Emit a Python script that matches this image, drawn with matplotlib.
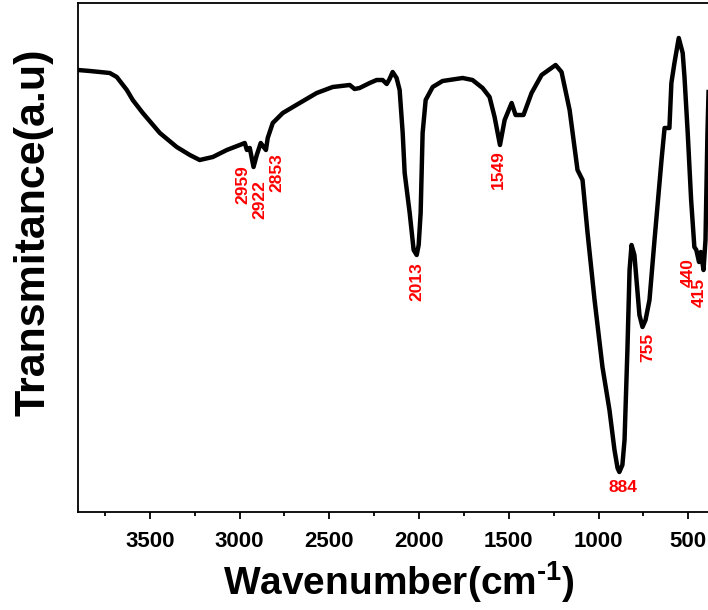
import numpy as np
import matplotlib
matplotlib.use('Agg')
import matplotlib.pyplot as plt
from matplotlib.ticker import MultipleLocator

plt.rcParams['font.family'] = ['Liberation Sans', 'DejaVu Sans']
plt.rcParams['font.weight'] = 'bold'
plt.rcParams['mathtext.default'] = 'regular'

# FTIR spectrum
wavenumber = [3900, 3834, 3778, 3723, 3684, 3628, 3595, 3539, 3444, 3350,
              3277, 3222, 3149, 3071, 2999, 2971, 2959, 2943, 2922, 2904,
              2882, 2853, 2843, 2815, 2759, 2665, 2570, 2481, 2386, 2359,
              2331, 2275, 2236, 2203, 2180, 2164, 2147, 2125, 2108, 2091,
              2080, 2052, 2030, 2013, 2002, 1991, 1980, 1963, 1924, 1869,
              1757, 1702, 1646, 1607, 1579, 1549, 1523, 1484, 1462, 1418,
              1373, 1317, 1239, 1206, 1161, 1117, 1089, 1061, 1022, 978,
              939, 911, 894, 884, 867, 855, 839, 827, 816, 800,
              772, 755, 738, 716, 688, 649, 632, 605, 594, 577,
              553, 531, 521, 503, 484, 466, 455, 440, 430, 415,
              404, 393, 387]
transmittance = [88.4, 88.2, 88.0, 87.8, 87.0, 84.4, 82.4, 79.8, 75.8, 73.0,
                 71.4, 70.4, 71.0, 72.4, 73.4, 73.8, 72.4, 72.8, 69.0, 71.4,
                 73.8, 72.4, 74.8, 77.8, 79.8, 81.8, 83.8, 85.0, 85.4, 84.6,
                 84.8, 85.8, 86.4, 86.4, 85.6, 86.6, 88.0, 86.8, 84.4, 75.8,
                 67.8, 59.8, 52.4, 51.4, 53.4, 59.8, 75.8, 82.4, 85.0, 86.2,
                 86.8, 86.4, 84.8, 83.0, 79.0, 73.4, 78.4, 81.8, 79.4, 79.4,
                 83.8, 87.4, 89.4, 88.0, 80.4, 68.4, 66.4, 55.8, 42.4, 29.0,
                 20.4, 12.4, 8.8, 8.0, 9.4, 14.4, 32.4, 48.4, 53.4, 51.4,
                 39.4, 37.0, 38.4, 42.4, 54.4, 70.4, 76.8, 76.8, 85.8, 89.8,
                 94.8, 91.8, 87.0, 75.8, 62.4, 53.0, 52.4, 50.0, 52.0, 48.4,
                 54.4, 75.8, 84.0]

# peak labels: text, x, y (top of rotated text), rotation
peak_labels = ['2959', '2922', '2853', '2013', '1549', '884', '755', '440', '415']
label_x = [2982, 2888, 2793, 2013, 1557, 866, 727, 499, 438]
label_y = [69.4, 66.4, 71.8, 50.0, 72.4, 4.8, 35.8, 50.8, 46.8]
label_rot = [90, 90, 90, 90, 90, 0, 90, 90, 90]

fig = plt.figure(figsize=(7.08, 6.10), dpi=100)
ax = fig.add_axes([78 / 708, 98 / 610, 630 / 708, 509 / 610])

ax.plot(wavenumber, transmittance, color='black', lw=3.2, solid_joinstyle='round')

for t, x, y, r in zip(peak_labels, label_x, label_y, label_rot):
    if r == 90:
        ax.text(x, y, t, rotation=90, ha='center', va='top', color='red',
                fontsize=12.5, fontweight='bold')
    else:
        ax.text(x, y, t, ha='center', va='center', color='red',
                fontsize=12.5, fontweight='bold')

ax.set_xlim(3900, 390)
ax.set_ylim(0, 101.8)
ax.xaxis.set_major_locator(MultipleLocator(500))
ax.xaxis.set_minor_locator(MultipleLocator(250))
ax.tick_params(axis='x', which='major', direction='out', length=5, width=1.3,
               labelsize=16, pad=9)
ax.tick_params(axis='x', which='minor', direction='out', length=3, width=1.3)
ax.set_yticks([])
for s in ['left', 'bottom', 'top']:
    ax.spines[s].set_linewidth(1.3)
ax.spines['right'].set_visible(False)
for lab in ax.get_xticklabels():
    lab.set_fontweight('bold')

fig.text(399 / 708, 1 - 582 / 610, 'Wavenumber(cm$^{\u2010 1}$)', ha='center', va='center',
         fontsize=28, fontweight='bold')
fig.text(34 / 708, 1 - 232 / 610, 'Transmitance(a.u)', rotation=90, ha='center',
         va='center', fontsize=31, fontweight='bold')

fig.savefig('out.png', dpi=100)
